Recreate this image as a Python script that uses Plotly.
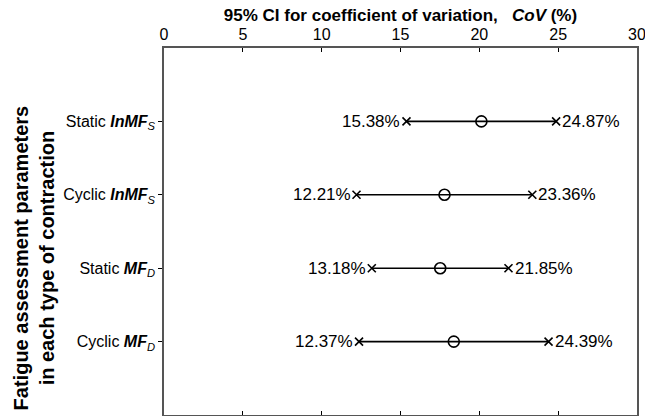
import plotly.graph_objects as go

categories = ["Static <b><i>InMF</i></b><sub><i>S</i></sub>",
              "Cyclic <b><i>InMF</i></b><sub><i>S</i></sub>",
              "Static <b><i>MF</i></b><sub><i>D</i></sub>",
              "Cyclic <b><i>MF</i></b><sub><i>D</i></sub>"]
row_pos = [1, 2, 3, 4]
lower = [15.38, 12.21, 13.18, 12.37]
upper = [24.87, 23.36, 21.85, 24.39]
mean = [20.13, 17.79, 17.52, 18.38]
x_ticks = [0, 5, 10, 15, 20, 25, 30]

FONT = "Liberation Sans, Arial, sans-serif"
fig = go.Figure()

for lo, hi, y in zip(lower, upper, row_pos):
    fig.add_trace(go.Scatter(x=[lo, hi], y=[y, y], mode="lines",
                             line=dict(color="black", width=1.6),
                             showlegend=False, hoverinfo="skip"))
fig.add_trace(go.Scatter(x=lower + upper, y=row_pos + row_pos, mode="markers",
                         marker=dict(symbol="x-thin", size=8, color="black",
                                     line=dict(color="black", width=1.6)),
                         showlegend=False))
fig.add_trace(go.Scatter(x=mean, y=row_pos, mode="markers",
                         marker=dict(symbol="circle-open", size=11, color="black",
                                     line=dict(width=1.6)),
                         showlegend=False))

for lo, hi, y in zip(lower, upper, row_pos):
    fig.add_annotation(x=lo, y=y, text=f"{lo:.2f}%", showarrow=False,
                       xanchor="right", yanchor="middle", xshift=-4,
                       font=dict(family=FONT, size=17, color="black"))
    fig.add_annotation(x=hi, y=y, text=f"{hi:.2f}%", showarrow=False,
                       xanchor="left", yanchor="middle", xshift=4,
                       font=dict(family=FONT, size=17, color="black"))

fig.update_layout(
    width=645, height=416,
    margin=dict(l=164, r=8, t=48, b=1, autoexpand=False),
    paper_bgcolor="white", plot_bgcolor="white",
    font=dict(family=FONT, size=16, color="black"),
    xaxis=dict(side="top", range=[0, 30], tickvals=x_ticks, automargin=False,
               ticks="inside", ticklen=4, tickwidth=1, tickcolor="black",
               ticklabeloverflow="allow",
               showline=True, linecolor="#555", linewidth=1.5, mirror="ticks",
               showgrid=False, zeroline=False,
               tickfont=dict(family=FONT, size=16, color="black"),
               title=dict(text="<b>95% CI for coefficient of variation,   <i>CoV</i> (%)</b>",
                          font=dict(family=FONT, size=17), standoff=0)),
    yaxis=dict(range=[5, 0], tickvals=row_pos, ticktext=categories, automargin=False,
               ticks="outside", ticklen=4, tickcolor="black",
               showline=True, linecolor="#555", linewidth=1.5, mirror=True,
               showgrid=False, zeroline=False,
               tickfont=dict(family=FONT, size=16, color="black")),
    yaxis2=dict(overlaying="y", side="right", range=[5, 0], tickvals=row_pos,
                automargin=False,
                showticklabels=False, ticks="inside", ticklen=5, tickcolor="black",
                showline=False, showgrid=False, zeroline=False),
)

fig.add_annotation(text="<b>Fatigue assessment parameters<br>in each type of contraction</b>",
                   xref="paper", yref="paper", x=-0.276, y=0.428,
                   xanchor="center", yanchor="middle",
                   textangle=-90, showarrow=False,
                   font=dict(family=FONT, size=20, color="black"))

fig.write_html("out.html", config={"displayModeBar": False},
               post_script="document.body.style.margin='0';")
